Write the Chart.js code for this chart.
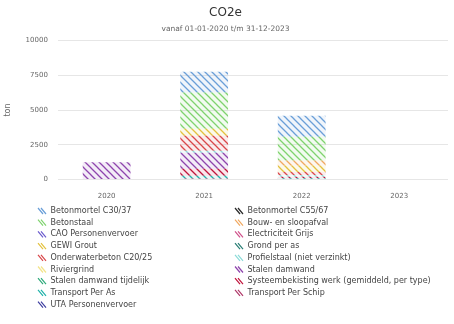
<!DOCTYPE html>
<html><head><meta charset="utf-8">
<script src="https://cdn.jsdelivr.net/npm/chart.js@4/dist/chart.umd.min.js"></script>
<style>html,body{margin:0;padding:0;background:#fff;}#wrap{width:454px;height:324px;}</style>
</head><body><div id="wrap"><canvas id="c" width="454" height="324"></canvas></div>
<script>
const categories = ['2020', '2021', '2022', '2023'];
const yTicks = [0, 2500, 5000, 7500, 10000];

// series names in legend (alphabetical) order
const seriesNames = [
  'Betonmortel C30/37', 'Betonmortel C55/67', 'Betonstaal', 'Bouw- en sloopafval',
  'CAO Personenvervoer', 'Electriciteit Grijs', 'GEWI Grout', 'Grond per as',
  'Onderwaterbeton C20/25', 'Profielstaal (niet verzinkt)', 'Riviergrind', 'Stalen damwand',
  'Stalen damwand tijdelijk', 'Systeembekisting werk (gemiddeld, per type)', 'Transport Per As',
  'Transport Per Schip', 'UTA Personenvervoer'
];
const seriesColors = [
  '#6a9fd8', '#2b2b2b', '#7fd36e', '#f0a860',
  '#6a5acd', '#d0508a', '#e3c13e', '#2a7f75',
  '#d9474a', '#8adbd8', '#f3e48a', '#8e44ad',
  '#2eaa7a', '#c0143c', '#20b2aa', '#b03a6a', '#3f3fa0'
];

const betonmortelC3037     = [0, 1500, 1515, 0];
const betonmortelC5567     = [0, 0, 0, 0];
const betonstaal           = [0, 2600, 1700, 0];
const bouwEnSloopafval     = [0, 0, 350, 0];
const caoPersonenvervoer   = [0, 0, 0, 0];
const electriciteitGrijs   = [0, 0, 0, 0];
const gewiGrout            = [0, 500, 480, 0];
const grondPerAs           = [0, 0, 0, 0];
const onderwaterbeton      = [0, 1070, 215, 0];
const profielstaal         = [0, 150, 120, 0];
const riviergrind          = [0, 0, 0, 0];
const stalenDamwand        = [1250, 1150, 0, 0];
const stalenDamwandTijd    = [0, 0, 0, 0];
const systeembekisting     = [0, 500, 100, 0];
const transportPerAs       = [0, 200, 105, 0];
const transportPerSchip    = [0, 80, 0, 0];
const utaPersonenvervoer   = [0, 0, 0, 0];

const seriesValues = [
  betonmortelC3037, betonmortelC5567, betonstaal, bouwEnSloopafval,
  caoPersonenvervoer, electriciteitGrijs, gewiGrout, grondPerAs,
  onderwaterbeton, profielstaal, riviergrind, stalenDamwand,
  stalenDamwandTijd, systeembekisting, transportPerAs, transportPerSchip, utaPersonenvervoer
];

function hexA(hex, a) {
  const n = parseInt(hex.slice(1), 16);
  return 'rgba(' + ((n >> 16) & 255) + ',' + ((n >> 8) & 255) + ',' + (n & 255) + ',' + a + ')';
}
function stripePattern(color) {
  const s = 7;
  const cv = document.createElement('canvas');
  cv.width = s; cv.height = s;
  const g = cv.getContext('2d');
  g.fillStyle = hexA(color, 0.10);
  g.fillRect(0, 0, s, s);
  g.strokeStyle = color;
  g.lineWidth = 1.3;
  g.beginPath();
  g.moveTo(-1, -1); g.lineTo(s + 1, s + 1);
  g.moveTo(-1, s - 1); g.lineTo(1, s + 1);
  g.moveTo(s - 1, -1); g.lineTo(s + 1, 1);
  g.stroke();
  return g.createPattern(cv, 'repeat');
}

// stack bottom = last alphabetical series, top = first
const datasets = [];
for (let i = seriesNames.length - 1; i >= 0; i--) {
  datasets.push({
    label: seriesNames[i],
    data: seriesValues[i],
    backgroundColor: stripePattern(seriesColors[i]),
    borderWidth: 0,
    categoryPercentage: 1,
    barPercentage: 0.49
  });
}

const gridLegend = {
  id: 'gridLegend',
  afterDraw(chart) {
    const ctx = chart.ctx;
    ctx.save();
    ctx.font = '8px "DejaVu Sans"';
    ctx.textBaseline = 'middle';
    ctx.textAlign = 'left';
    for (let i = 0; i < seriesNames.length; i++) {
      const col = i % 2, row = Math.floor(i / 2);
      const x = col === 0 ? 38 : 235;
      const y = 211 + row * 11.7;
      ctx.strokeStyle = seriesColors[i];
      ctx.lineWidth = 1.2;
      ctx.beginPath();
      for (let k = 0; k < 2; k++) {
        ctx.moveTo(x + k * 3, y - 3);
        ctx.lineTo(x + k * 3 + 5, y + 3);
      }
      ctx.stroke();
      ctx.fillStyle = '#444';
      ctx.fillText(seriesNames[i], x + 12.5, y);
    }
    ctx.restore();
  }
};

new Chart(document.getElementById('c'), {
  type: 'bar',
  data: { labels: categories, datasets: datasets },
  options: {
    responsive: false,
    animation: false,
    devicePixelRatio: 1,
    layout: { padding: { left: 3, right: 6, top: 0, bottom: 120 } },
    plugins: {
      legend: { display: false },
      tooltip: { enabled: false },
      title: { display: true, text: 'CO2e', color: '#333', font: { family: 'DejaVu Sans', size: 12, weight: 'normal' }, padding: { top: 6, bottom: 4 } },
      subtitle: { display: true, text: 'vanaf 01-01-2020 t/m 31-12-2023', color: '#666', font: { family: 'DejaVu Sans', size: 7.5 }, padding: { bottom: 7 } }
    },
    scales: {
      x: {
        stacked: true,
        grid: { display: false },
        border: { display: false },
        ticks: { color: '#666', font: { family: 'DejaVu Sans', size: 7 }, padding: 4 }
      },
      y: {
        stacked: true,
        min: 0, max: 10000,
        afterBuildTicks(axis) { axis.ticks = yTicks.map(v => ({ value: v })); },
        grid: { color: '#e6e6e6', drawTicks: false },
        border: { display: false },
        ticks: { color: '#666', font: { family: 'DejaVu Sans', size: 7 }, padding: 10, callback: (v) => String(v) },
        title: { display: true, text: 'ton', color: '#666', font: { family: 'DejaVu Sans', size: 8 }, padding: { top: 0, bottom: 3 } }
      }
    }
  },
  plugins: [gridLegend]
});
</script></body></html>
